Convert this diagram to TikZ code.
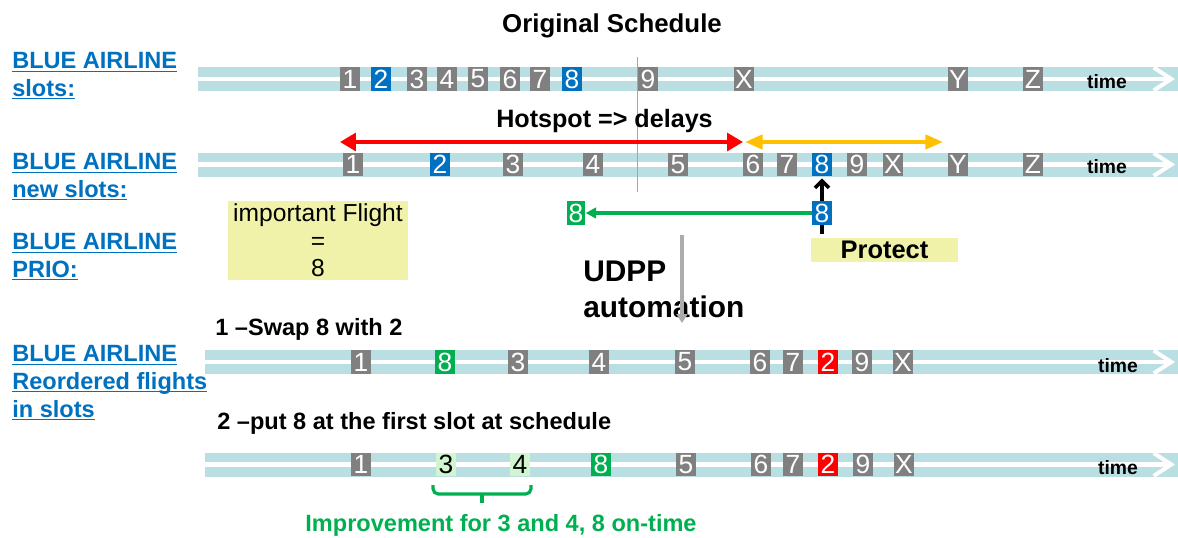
\documentclass[tikz,border=0pt]{standalone}
\usepackage{fontspec}
\setmainfont{Liberation Sans}
\usetikzlibrary{arrows.meta}

\definecolor{airblue}{RGB}{0,112,192}
\definecolor{slotgray}{RGB}{128,128,128}
\definecolor{bandblue}{RGB}{185,223,227}
\definecolor{prioyellow}{RGB}{240,242,170}
\definecolor{okgreen}{RGB}{0,176,80}
\definecolor{lightok}{RGB}{208,245,208}
\definecolor{hotred}{RGB}{255,0,0}
\definecolor{delayorange}{RGB}{255,192,0}

\newcommand{\ulab}[1]{\underline{\raisebox{0pt}[\height][0pt]{#1}}}

\begin{document}
\begin{tikzpicture}[x=0.02cm, y=-0.02cm,
		slot/.style={fill=slotgray, text=white, inner sep=0pt, minimum width=0.4cm, minimum height=0.47cm, font=\fontsize{15}{15}\selectfont},
		airline/.style={anchor=north west, inner sep=0pt, align=left, text=airblue, font=\fontsize{13.4}{15.8}\selectfont\bfseries},
		steptext/.style={anchor=base west, inner sep=0pt, font=\fontsize{13.4}{15}\selectfont\bfseries},
		prio/.style={fill=prioyellow, inner sep=0pt},
		timelbl/.style={inner sep=0pt, font=\fontsize{11}{12}\selectfont\bfseries}]
	
	\useasboundingbox (0,0) rectangle (1178,538);
	
	% Title
	\node[anchor=base, font=\fontsize{14.7}{16}\selectfont\bfseries] (title) at (612,32) {Original Schedule};
	
	% Row labels
	\node[airline] (lab1) at (12,52) {\ulab{BLUE AIRLINE}\\\ulab{slots:}};
	\node[airline] (lab2) at (12,153) {\ulab{BLUE AIRLINE}\\\ulab{new slots:}};
	\node[airline] (lab3) at (12,233) {\ulab{BLUE AIRLINE}\\\ulab{PRIO:}};
	\node[airline] (lab4) at (12,345) {\ulab{BLUE AIRLINE}\\\ulab{Reordered flights}\\\ulab{in slots}};
	
	% Time bands (light blue, white centre line)
	\foreach \xs/\yc in {198/79, 198/164.5, 205/362, 205/464.5} {
		\fill[bandblue] (\xs,\yc-12) rectangle (1178,\yc+12);
		\draw[white, line width=2.3pt, -{Straight Barb[length=10pt,width=13pt]}] (\xs,\yc) -- (1175,\yc);
	}
	\foreach \xt/\yt [count=\i] in {1107/82, 1107/167, 1118/366, 1118/468}
		\node[timelbl] (time\i) at (\xt,\yt) {time};
	
	% Separator between rows 1 and 2
	\draw[gray!70, line width=0.5pt] (637,57) -- (637,192);
	
	% Original slots
	\foreach \f/\x/\c in {1/350/slotgray, 2/381/airblue, 3/417/slotgray, 4/447/slotgray, 5/478/slotgray, 6/510/slotgray, 7/540/slotgray, 8/572/airblue, 9/648/slotgray, X/744/slotgray, Y/958/slotgray, Z/1033/slotgray}
		\node[slot, fill=\c] (o\f) at (\x,79) {\f};
	
	% New slots after the hotspot
	\foreach \f/\x/\c in {1/353/slotgray, 2/440/airblue, 3/513/slotgray, 4/593/slotgray, 5/678/slotgray, 6/753/slotgray, 7/787/slotgray, 8/822/airblue, 9/857/slotgray, X/893/slotgray, Y/958/slotgray, Z/1033/slotgray}
		\node[slot, fill=\c] (n\f) at (\x,164.5) {\f};
	
	% Hotspot arrows
	\node[anchor=base, font=\fontsize{14.3}{16}\selectfont\bfseries] (hot) at (604.5,127) {Hotspot => delays};
	\coordinate (hotL) at (340,142);
	\coordinate (hotM) at (743,142);
	\coordinate (delL) at (745,142);
	\coordinate (delR) at (943,142);
	\draw[hotred, line width=2.6pt, {Triangle[length=9pt,width=10pt]}-{Triangle[length=9pt,width=10pt]}] (hotL) -- (hotM);
	\draw[delayorange, line width=2.3pt, {Triangle[length=10pt,width=8pt]}-{Triangle[length=10pt,width=8pt]}] (delL) -- (delR);
	
	% Priority flight
	\node[prio, minimum width=3.6cm, minimum height=1.58cm, align=center, font=\fontsize{14}{15.6}\selectfont] (important) at (318,240.5) {important Flight\\=\\8};
	\coordinate (protfoot) at (822,234);
	\draw[line width=2pt, -{Straight Barb[length=4pt,width=8pt]}, shorten >=1pt] (protfoot) -- (n8.south);
	\node[slot, fill=airblue, minimum height=0.48cm] (b8) at (822,213) {8};
	\node[slot, fill=okgreen, minimum width=0.37cm] (g8) at (576,213) {8};
	\draw[okgreen, line width=1.9pt, -{Triangle[length=6pt,width=6pt]}] (b8.west) -- (g8.east);
	\node[prio, minimum width=2.94cm, minimum height=0.48cm, font=\fontsize{14.5}{15}\selectfont\bfseries] (protect) at (884.5,250) {Protect};
	
	% UDPP automation
	\node[anchor=north west, inner sep=0pt, align=left, font=\fontsize{17}{20.4}\selectfont\bfseries] (udpp) at (583,261) {UDPP\\automation};
	\coordinate (autoTop) at (682,235);
	\coordinate (autoBot) at (682,323);
	\draw[gray!65, line width=2.5pt, -{Triangle[length=5pt,width=6pt]}] (autoTop) -- (autoBot);
	
	% Step 1: swap
	\node[steptext] (step1) at (215,335) {1 –Swap 8 with 2};
	\foreach \f/\x/\c in {1/361/slotgray, 8/445/okgreen, 3/518/slotgray, 4/599/slotgray, 5/685/slotgray, 6/760/slotgray, 7/793/slotgray, 2/828/hotred, 9/862/slotgray, X/903/slotgray}
		\node[slot, fill=\c] (r\f) at (\x,362) {\f};
	
	% Step 2: first slot at schedule
	\node[steptext] (step2) at (217,429) {2 –put 8 at the first slot at schedule};
	\foreach \f/\x/\c in {1/361/slotgray, 8/601/okgreen, 5/686/slotgray, 6/761/slotgray, 7/793/slotgray, 2/828/hotred, 9/863/slotgray, X/904/slotgray}
		\node[slot, fill=\c] (p\f) at (\x,464.5) {\f};
	\node[slot, fill=lightok, text=black] (p3) at (446,464.5) {3};
	\node[slot, fill=lightok, text=black] (p4) at (520,464.5) {4};
	
	% Improvement bracket
	\draw[okgreen, line width=1.8pt, rounded corners=3pt] (433,485) -- (433,494) -- (531,494) -- (531,485);
	\draw[okgreen, line width=1.8pt] (482,494) -- (482,503);
	\node[anchor=base, font=\fontsize{13.4}{15}\selectfont\bfseries, text=okgreen] (gain) at (501,531) {Improvement for 3 and 4, 8 on-time};
	
\end{tikzpicture}
\end{document}
